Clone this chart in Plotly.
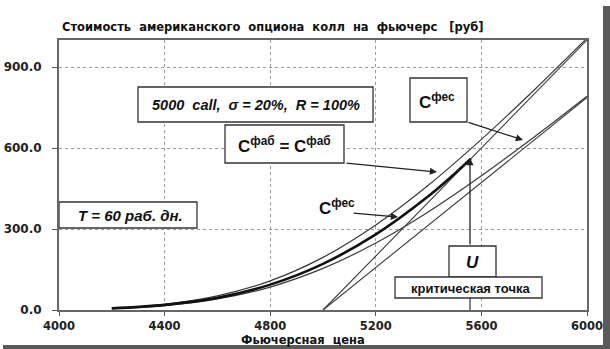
import plotly.graph_objects as go

# ---- data ----
futures = [4200, 4400, 4600, 4800, 5000, 5200, 5400, 5600, 5800, 6000]
c_futstyle = [7, 21, 52, 108, 195, 315, 463, 632, 815, 1007]      # upper curve
c_european = [5, 16, 41, 85, 154, 248, 364, 497, 641, 792]        # lower curve
am_futures = [4200, 4400, 4600, 4800, 5000, 5200, 5400, 5500, 5560]
c_american = [6, 19, 45, 94, 171, 280, 422, 506, 560]              # thick curve up to U
intr_x = [5000, 6000]
intr_y = [0, 1000]
intr_disc_y = [0, 787]
x_ticks = [4000, 4400, 4800, 5200, 5600, 6000]
y_ticks = [0, 300, 600, 900]
y_ticktext = ["0.0", "300.0", "600.0", "900.0"]

# plot area geometry (pixels) used only for placing annotations/boxes
L, R, T, B = 59, 587, 40, 310
X0, X1, Y0, Y1 = 4000, 6000, 0, 1000
def X(px):
    return X0 + (px - L) * (X1 - X0) / (R - L)
def Y(py):
    return Y0 + (B - py) * (Y1 - Y0) / (B - T)
def PX(px):
    return (px - L) / (R - L)
def PY(py):
    return (B - py) / (B - T)

LC = "#3a3a3a"
FONT = "Liberation Sans, Arial"
WIDE = "DejaVu Sans"
fig = go.Figure()
fig.add_trace(go.Scatter(x=futures, y=c_futstyle, mode="lines", line=dict(color=LC, width=1.2, shape="spline"), showlegend=False))
fig.add_trace(go.Scatter(x=futures, y=c_european, mode="lines", line=dict(color=LC, width=1.2, shape="spline"), showlegend=False))
fig.add_trace(go.Scatter(x=intr_x, y=intr_y, mode="lines", line=dict(color=LC, width=1.1), showlegend=False))
fig.add_trace(go.Scatter(x=intr_x, y=intr_disc_y, mode="lines", line=dict(color=LC, width=1.1), showlegend=False))
fig.add_trace(go.Scatter(x=am_futures, y=c_american, mode="lines", line=dict(color="#111", width=2.6, shape="spline"), showlegend=False))

shapes = []
def box(x0, y0, x1, y1):
    shapes.append(dict(type="rect", xref="x", yref="y", x0=X(x0), x1=X(x1), y0=Y(y1), y1=Y(y0),
                       line=dict(color="#333", width=1.3), fillcolor="white", layer="above"))
box(138, 87, 373, 122)
box(225, 125, 344, 163)
box(410, 78, 467, 122)
box(59, 202, 197, 228)
box(449, 246, 496, 277)
box(395, 277, 542, 298)
# line from critical box to axis
shapes.append(dict(type="line", xref="x", yref="y", x0=X(470), x1=X(470), y0=Y(298), y1=Y(310),
                   line=dict(color="#333", width=1.2)))
# shadow frame
shapes.append(dict(type="rect", xref="paper", yref="paper", x0=PX(603), x1=PX(611),
                   y0=PY(350), y1=PY(6), line=dict(width=0), fillcolor="#5a5a5a", layer="above"))
shapes.append(dict(type="rect", xref="paper", yref="paper", x0=PX(3), x1=PX(611),
                   y0=PY(350), y1=PY(345), line=dict(width=0), fillcolor="#5a5a5a", layer="above"))

ann = []
def text(px, py, s, size, italic=False, bold=True, family=FONT):
    ann.append(dict(x=X(px), y=Y(py), xref="x", yref="y", text=s, showarrow=False,
                    xanchor="center", yanchor="middle",
                    font=dict(family=family, size=size, color="#111",
                              style="italic" if italic else "normal", weight="bold" if bold else "normal")))
def arrow(tx, ty, hx, hy):
    ann.append(dict(x=X(hx), y=Y(hy), ax=X(tx), ay=Y(ty), xref="x", yref="y", axref="x", ayref="y",
                    text="", showarrow=True, arrowhead=2, arrowsize=1.1, arrowwidth=1.3, arrowcolor="#222"))

text(256, 105, "5000  call,  σ = 20%,  R = 100%", 14.5, italic=True)
text(284, 145, "C<sup>фаб</sup> = C<sup>фаб</sup>", 17)
text(437, 101, "C<sup>фес</sup>", 17)
text(337, 207, "C<sup>фес</sup>", 17)
text(130, 215, "T = 60 раб. дн.", 15, italic=True)
text(472, 262, "U", 17, italic=True)
text(470, 288, "критическая точка", 13)
arrow(345, 163, 437, 172)
arrow(352, 213, 398, 217)
arrow(467, 122, 523, 140)
arrow(470, 246, 470, 158)

# title and axis title
ann.append(dict(x=PX(60), y=PY(27), xref="paper", yref="paper", xanchor="left", yanchor="middle",
                text="Стоимость  американского  опциона  колл  на  фьючерс   [руб]", showarrow=False,
                font=dict(family=WIDE, size=11.5, color="#111", weight="bold")))
ann.append(dict(x=PX(303), y=PY(340), xref="paper", yref="paper", xanchor="center", yanchor="middle",
                text="Фьючерсная  цена", showarrow=False,
                font=dict(family=WIDE, size=11.5, color="#111", weight="bold")))

fig.update_layout(
    width=610, height=349, margin=dict(l=L, r=610 - R, t=T, b=349 - B, autoexpand=False),
    paper_bgcolor="white", plot_bgcolor="white",
    shapes=shapes, annotations=ann, showlegend=False,
    xaxis=dict(range=[X0, X1], tickvals=x_ticks, ticktext=[str(v) for v in x_ticks], automargin=False,
               showgrid=True, gridcolor="#9a9a9a", griddash="dot", gridwidth=1,
               showline=True, linecolor="#666", linewidth=2, mirror=True,
               ticks="outside", ticklen=4, tickcolor="#555", zeroline=False,
               tickfont=dict(family=WIDE, size=11.5, color="#222", weight="bold")),
    yaxis=dict(range=[Y0, Y1], tickvals=y_ticks, ticktext=y_ticktext, automargin=False,
               showgrid=True, gridcolor="#9a9a9a", griddash="dot", gridwidth=1,
               showline=True, linecolor="#666", linewidth=2, mirror=True,
               ticks="outside", ticklen=5, tickcolor="#555", zeroline=False, ticklabelstandoff=8,
               tickfont=dict(family=WIDE, size=12, color="#222", weight="bold")),
)
fig.write_html("out.html")
